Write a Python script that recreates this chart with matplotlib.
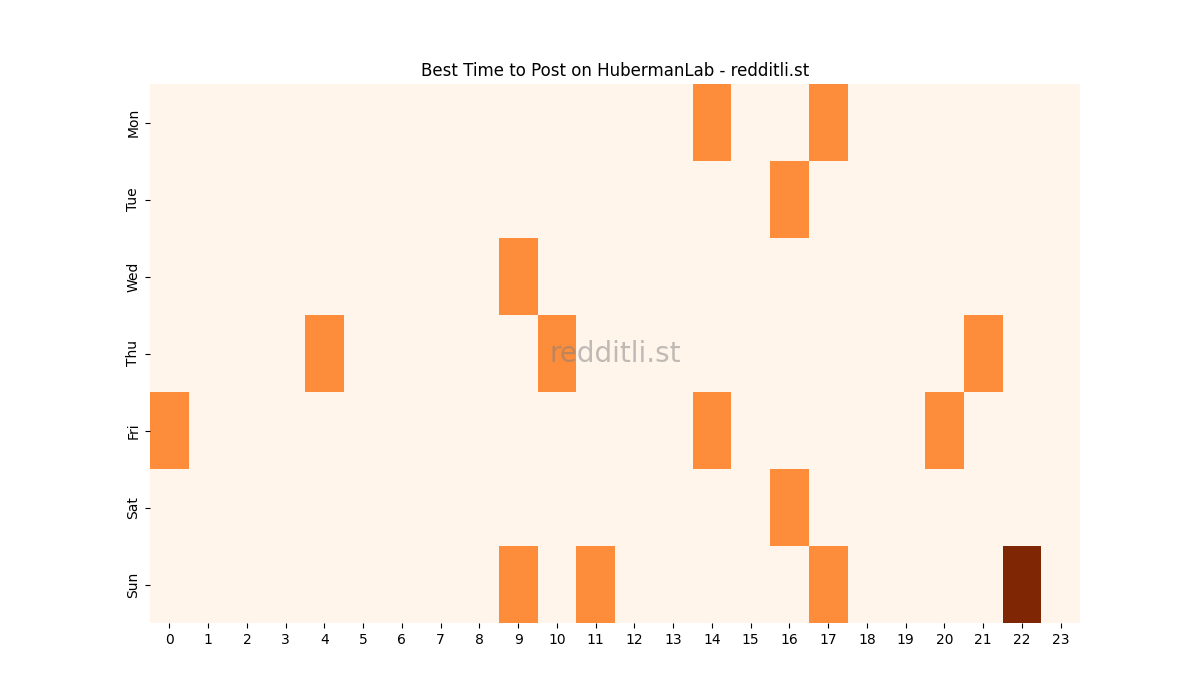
import numpy as np
import matplotlib
matplotlib.use("Agg")
import matplotlib.pyplot as plt

days = ["Mon", "Tue", "Wed", "Thu", "Fri", "Sat", "Sun"]
hours = list(range(24))

# godziny z aktywnością (1) dla każdego dnia; niedziela 22:00 = 2
active = {
    "Mon": [14, 17],
    "Tue": [16],
    "Wed": [9],
    "Thu": [4, 10, 21],
    "Fri": [0, 14, 20],
    "Sat": [16],
    "Sun": [9, 11, 17],
}
peak_day, peak_hour, peak_value = "Sun", 22, 2

grid = np.zeros((len(days), len(hours)))
for i, d in enumerate(days):
    for h in active[d]:
        grid[i, h] = 1
grid[days.index(peak_day), peak_hour] = peak_value

fig, ax = plt.subplots(figsize=(12, 7), dpi=100)
ax.pcolormesh(grid, cmap="Oranges", vmin=0, vmax=2)
ax.set_xlim(0, len(hours))
ax.set_ylim(len(days), 0)
ax.set_xticks(np.arange(len(hours)) + 0.5)
ax.set_xticklabels(hours)
ax.set_yticks(np.arange(len(days)) + 0.5)
ax.set_yticklabels(days, rotation=90, va="center")
for s in ax.spines.values():
    s.set_visible(False)

ax.set_title("Best Time to Post on HubermanLab - redditli.st")
ax.text(0.5, 0.5, "redditli.st", transform=ax.transAxes, fontsize=20,
        color="gray", alpha=0.5, ha="center", va="center")

fig.savefig("out.png", dpi=100)
